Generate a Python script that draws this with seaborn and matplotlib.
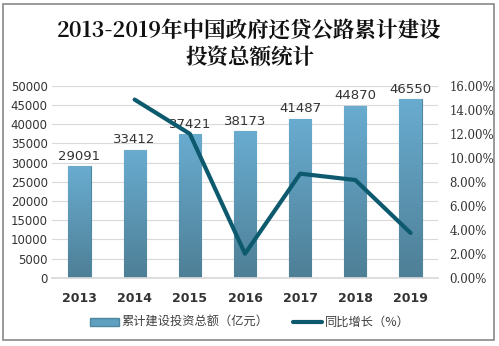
import numpy as np
import pandas as pd
import matplotlib
matplotlib.use("Agg")
import matplotlib.pyplot as plt
import seaborn as sns
from matplotlib.patches import Rectangle
from matplotlib.lines import Line2D
from matplotlib.colors import LinearSegmentedColormap

years = ["2013", "2014", "2015", "2016", "2017", "2018", "2019"]
investment = [29091, 33412, 37421, 38173, 41487, 44870, 46550]
growth_years = ["2014", "2015", "2016", "2017", "2018", "2019"]
growth = [14.85, 12.00, 2.01, 8.68, 8.15, 3.74]

sns.set_theme(style="white")
plt.rcParams['font.family'] = ['Noto Sans CJK SC', 'DejaVu Sans']

fig = plt.figure(figsize=(4.99, 3.46), dpi=100)
ax = fig.add_axes([0.104, 0.197, 0.774, 0.555])

df = pd.DataFrame({"year": years, "value": investment})
sns.barplot(data=df, x="year", y="value", ax=ax, color="#5f9fbf", width=0.4,
            edgecolor="#4f86a0", linewidth=0.8, zorder=2)

# gradient fill on bars
cmap = LinearSegmentedColormap.from_list("g", ["#4e7f96", "#69acd0"])
grad = np.linspace(0, 1, 256).reshape(-1, 1)
for p in list(ax.patches):
    x0, y0 = p.get_x(), p.get_y()
    w, h = p.get_width(), p.get_height()
    im = ax.imshow(grad, extent=[x0, x0 + w, y0, y0 + h], origin="lower",
                   cmap=cmap, aspect="auto", zorder=2.5)
    im.set_clip_path(p)

for i, v in enumerate(investment):
    ax.text(i, v + 900, str(v), ha="center", va="bottom", fontsize=9.5,
            color="#333333", family=["DejaVu Sans"])

ax.set_ylim(0, 50000)
ax.set_xlim(-0.5, 6.5)
ax.set_yticks(range(0, 50001, 5000))
ax.yaxis.grid(True, color="#d9d9d9", linewidth=0.8, zorder=0)
ax.set_axisbelow(True)
ax.set_xlabel("")
ax.set_ylabel("")
for s in ax.spines.values():
    s.set_visible(False)
ax.spines["bottom"].set_visible(True)
ax.spines["bottom"].set_color("#d9d9d9")
ax.tick_params(axis="y", labelsize=8.5, colors="#333333", length=0, pad=3)
ax.tick_params(axis="x", labelsize=9, colors="#333333", length=0, pad=10)
for t in ax.get_xticklabels():
    t.set_fontweight("bold")
    t.set_family(["DejaVu Sans"])
for t in ax.get_yticklabels():
    t.set_family(["DejaVu Sans"])

ax2 = ax.twinx()
gdf = pd.DataFrame({"pos": [years.index(y) for y in growth_years], "g": growth})
sns.lineplot(data=gdf, x="pos", y="g", ax=ax2, color="#0d5a6e", linewidth=3, zorder=3)
ax2.set_ylim(0, 16)
ax2.set_yticks(np.arange(0, 16.01, 2))
ax2.set_yticklabels([f"{v:.2f}%" for v in np.arange(0, 16.01, 2)])
ax2.set_xlim(-0.5, 6.5)
ax2.set_ylabel("")
ax2.set_xlabel("")
ax2.grid(False)
for s in ax2.spines.values():
    s.set_visible(False)
ax2.tick_params(axis="y", labelsize=8.5, colors="#333333", length=0, pad=8)
for t in ax2.get_yticklabels():
    t.set_family(["DejaVu Serif"])

title_fam = ["Noto Serif CJK SC", "Noto Sans CJK SC", "DejaVu Serif"]
fig.text(0.5, 0.912, "2013-2019年中国政府还贷公路累计建设", ha="center", va="center",
         fontsize=15.5, fontweight="semibold", color="#111111", family=title_fam)
fig.text(0.5, 0.833, "投资总额统计", ha="center", va="center",
         fontsize=15.5, fontweight="semibold", color="#111111", family=title_fam)

handles = [Rectangle((0, 0), 1, 1, facecolor="#5f9fbf", edgecolor="#4f86a0"),
           Line2D([0], [0], color="#0d5a6e", linewidth=3)]
fig.legend(handles, ["累计建设投资总额（亿元）", "同比增长（%）"], loc="center",
           bbox_to_anchor=(0.5, 0.068), ncol=2, frameon=False, fontsize=8.8,
           handlelength=2.4, handleheight=0.6, columnspacing=2.0, handletextpad=0.2,
           labelcolor="#404040")

fig.add_artist(Rectangle((0.007, 0.017), 0.982, 0.97, transform=fig.transFigure,
                         fill=False, edgecolor="#888888", linewidth=1.2))

fig.savefig("out.png", dpi=100)
